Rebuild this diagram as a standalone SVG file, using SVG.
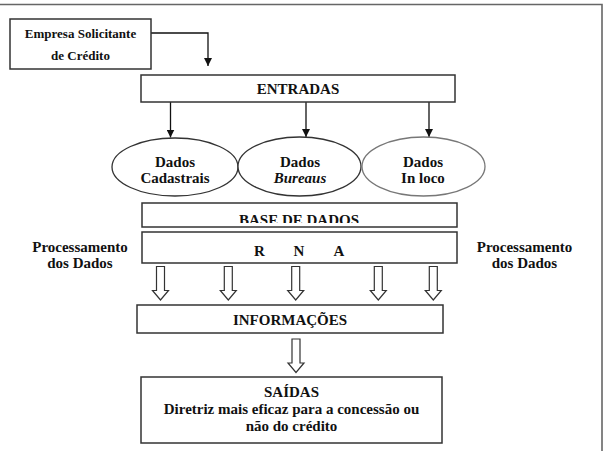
<svg xmlns="http://www.w3.org/2000/svg" width="603" height="451" viewBox="0 0 603 451">
<style>
.box{fill:#fff;stroke:#333;stroke-width:1.5}
.ell{fill:#fff;stroke:#333;stroke-width:1.3}
.ell2{fill:#fff;stroke:#777;stroke-width:1.3}
.t{font-family:'Liberation Serif','Times New Roman','DejaVu Serif',serif;font-weight:bold;font-size:15px;fill:#111;text-anchor:middle}
.ts{font-size:13px}
.line{fill:none;stroke:#111;stroke-width:1.3}
.hollow{fill:#fff;stroke:#333;stroke-width:1.2;stroke-linejoin:miter}
</style>
<defs>
<marker id="ah" viewBox="0 0 10 10" refX="10" refY="5" markerWidth="8" markerHeight="8" markerUnits="userSpaceOnUse" orient="auto">
<path d="M0,0 L10,5 L0,10 Z" fill="#111"/>
</marker>
<path id="ha" d="M-4,0 L4,0 L4,24 L8,24 L0,33.5 L-8,24 L-4,24 Z"/>
<clipPath id="bclip"><rect x="140" y="200" width="320" height="23"/></clipPath>
</defs>
<rect width="603" height="451" fill="#fff"/>
<g id="frame">
<path d="M0,4.5 H602 V451" fill="none" stroke="#666" stroke-width="1.6"/>
</g>
<g id="connectors">
<path class="line" d="M151,33 H208 V66" marker-end="url(#ah)"/>
<path class="line" d="M170.5,102 V137.5" marker-end="url(#ah)"/>
<path class="line" d="M306,102 V137" marker-end="url(#ah)"/>
<path class="line" d="M429,102 V137" marker-end="url(#ah)"/>
<use href="#ha" class="hollow" x="160.5" y="266.5"/>
<use href="#ha" class="hollow" x="228.3" y="266.5"/>
<use href="#ha" class="hollow" x="295.7" y="266.5"/>
<use href="#ha" class="hollow" x="378.3" y="266.5"/>
<use href="#ha" class="hollow" x="433.3" y="266.5"/>
<use href="#ha" class="hollow" x="296" y="339"/>
</g>
<g font-family="Liberation Serif, Times New Roman, serif">
<g id="empresa">
<rect class="box" x="10" y="19" width="141" height="50"/>
<text class="t ts" x="80.5" y="38">Empresa Solicitante</text>
<text class="t ts" x="80.5" y="60">de Crédito</text>
</g>
<g id="entradas">
<rect class="box" x="141" y="75" width="314" height="27"/>
<text class="t" x="298" y="94">ENTRADAS</text>
</g>
<g id="cadastrais">
<ellipse class="ell" cx="175" cy="167" rx="63" ry="29"/>
<text class="t" x="175" y="167">Dados</text>
<text class="t" x="175" y="183">Cadastrais</text>
</g>
<g id="bureaus">
<ellipse class="ell" cx="299.5" cy="166.5" rx="61.5" ry="29.5"/>
<text class="t" x="300" y="167">Dados</text>
<text class="t" x="300" y="183" font-style="italic">Bureaus</text>
</g>
<g id="inloco">
<ellipse class="ell2" cx="423.5" cy="166.5" rx="61.5" ry="29.5"/>
<text class="t" x="423" y="167">Dados</text>
<text class="t" x="423" y="183">In loco</text>
</g>
<g id="base">
<rect class="box" x="142" y="203" width="315" height="24"/>
<text class="t" x="299" y="225" clip-path="url(#bclip)">BASE DE DADOS</text>
</g>
<g id="rna">
<rect class="box" x="142" y="232" width="315" height="31"/>
<text class="t" x="259.5" y="255.5">R</text>
<text class="t" x="299" y="255.5">N</text>
<text class="t" x="339" y="255.5">A</text>
</g>
<g id="proc-left">
<text class="t" x="80" y="252">Processamento</text>
<text class="t" x="80" y="268">dos Dados</text>
</g>
<g id="proc-right">
<text class="t" x="524.5" y="252">Processamento</text>
<text class="t" x="524.5" y="268">dos Dados</text>
</g>
<g id="informacoes">
<rect class="box" x="137" y="305" width="306" height="28"/>
<text class="t" x="290" y="325">INFORMAÇÕES</text>
</g>
<g id="saidas">
<rect class="box" x="141" y="377" width="301" height="66"/>
<text class="t" x="291.5" y="397">SAÍDAS</text>
<text class="t" x="291.5" y="414">Diretriz mais eficaz para a concessão ou</text>
<text class="t" x="291.5" y="431">não do crédito</text>
</g>
</g>
</svg>
